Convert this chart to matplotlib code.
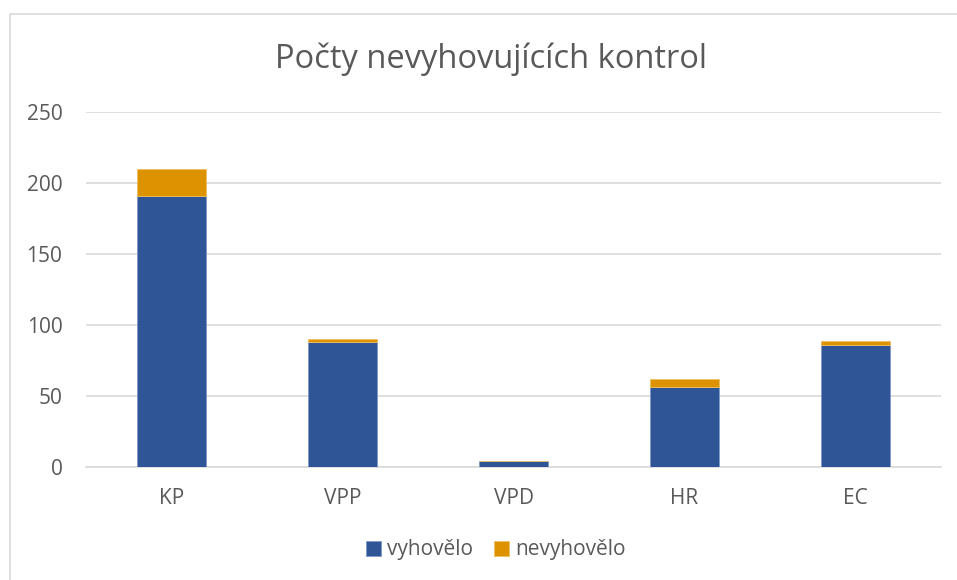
import matplotlib
matplotlib.use("Agg")
import matplotlib.pyplot as plt
from matplotlib.patches import Rectangle

categories = ["KP", "VPP", "VPD", "HR", "EC"]
vyhovelo = [191, 88, 4, 56, 86]
nevyhovelo = [19, 2, 0, 6, 3]
yticks = [0, 50, 100, 150, 200, 250]

title = "Počty nevyhovujících kontrol"
blue = "#2F5597"
orange = "#DD9200"
text_col = "#595959"
grid_col = "#D9D9D9"

plt.rcParams['font.family'] = ['Open Sans', 'DejaVu Sans']

fig = plt.figure(figsize=(9.57, 5.8), dpi=100)
ax = fig.add_axes([86/957, (580-466.7)/580, (941-86)/957, (466.7-112.3)/580])

x = range(len(categories))
ax.bar(x, vyhovelo, width=0.4, color=blue, label="vyhovělo", zorder=3,
       edgecolor="#7F9ACB", linewidth=0.6)
ax.bar(x, nevyhovelo, width=0.4, bottom=vyhovelo, color=orange, label="nevyhovělo",
       zorder=3, edgecolor="#F0C060", linewidth=0.6)

ax.set_xlim(-0.5, len(categories) - 0.5)
ax.set_ylim(0, 250)
ax.set_yticks(yticks)
ax.set_xticks(list(x))
ax.set_xticklabels(categories)
ax.yaxis.grid(True, color=grid_col, linewidth=1.2, zorder=0)
ax.set_axisbelow(True)
for s in ["top", "right", "left"]:
    ax.spines[s].set_visible(False)
ax.spines["bottom"].set_color(grid_col)
ax.spines["bottom"].set_linewidth(1.2)
ax.tick_params(axis="both", length=0, colors=text_col, labelsize=15)
ax.tick_params(axis="y", pad=17)
ax.tick_params(axis="x", pad=15)

fig.text(491/957, 1 - 59/580, title, ha="center", va="center", fontsize=23.5, color=text_col)

leg = fig.legend(loc="center", bbox_to_anchor=(496/957, 1 - 550/580), ncol=2, frameon=False,
                 fontsize=15, labelcolor=text_col, handlelength=0.7, handleheight=0.7,
                 handletextpad=0.3, columnspacing=1.0)

# chart border
fig.add_artist(Rectangle((10/957, -0.05), 1.0, 1 - 14/580 + 0.05, transform=fig.transFigure,
                         fill=False, edgecolor=grid_col, linewidth=1.2))

fig.savefig("out.png", dpi=100)
